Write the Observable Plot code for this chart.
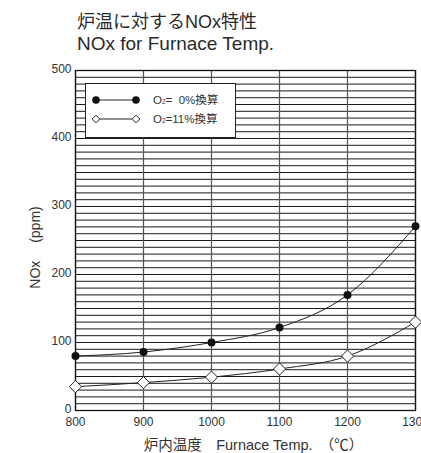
<!DOCTYPE html>
<html>
<head>
<meta charset="utf-8">
<script src="https://cdn.jsdelivr.net/npm/d3@7"></script>
<script src="https://cdn.jsdelivr.net/npm/@observablehq/plot@0.6"></script>
<style>
  body { margin: 0; background: #fff; font-family: "Liberation Sans", "Noto Sans CJK JP", sans-serif; color: #222; }
  #wrap { position: relative; width: 421px; height: 453px; overflow: hidden; }
  #title { position: absolute; left: 77px; top: 0; font-size: 18px; line-height: 22px; color: #2a2a2a; }
  #title div { white-space: nowrap; }
  #chart { position: absolute; left: 0; top: 60px; }
  #legend { position: absolute; left: 85px; top: 83px; width: 149px; height: 53px; background: #fff; border: 1px solid #222; font-size: 11.5px; color: #333; }
  #legend .row { position: absolute; left: 0; height: 14px; white-space: pre; }
  #legend svg { position: absolute; left: 0; top: 0; }
  #legend .lbl { position: absolute; left: 67px; top: 0; line-height: 14px; }
  #legend sub { font-size: 6.5px; vertical-align: 0; }
</style>
</head>
<body>
<div id="wrap">
  <div id="title"><div style="margin-top:11px">炉温に対するNOx特性</div><div style="font-size:19px">NOx for Furnace Temp.</div></div>
  <div id="chart"></div>
  <div id="legend"></div>
</div>
<script>
const temps = [800, 900, 1000, 1100, 1200, 1300];
const nox0 = [80, 86, 100, 122, 170, 271];
const nox11 = [35, 41, 49, 61, 80, 130];
const seriesNames = ["O2=  0%換算", "O2=11%換算"];
const xTicks = [800, 900, 1000, 1100, 1200, 1300];
const yTicks = [0, 100, 200, 300, 400, 500];
const yMinorStep = 10;
const xLabel = "炉内温度　Furnace Temp.　（℃）";
const yLabel = "NOx　 (ppm)";

const rows0 = temps.map((t, i) => ({temp: t, nox: nox0[i]}));
const rows11 = temps.map((t, i) => ({temp: t, nox: nox11[i]}));
const yGrid = d3.range(yTicks[0], yTicks[yTicks.length - 1] + 1, yMinorStep);

const plot = Plot.plot({
  width: 421,
  height: 393,
  marginTop: 10,
  marginBottom: 43,
  marginLeft: 75,
  marginRight: 6,
  style: {fontFamily: '"Liberation Sans", "Noto Sans CJK JP", sans-serif', fontSize: "12px", color: "#333", overflow: "visible"},
  x: {domain: [800, 1300]},
  y: {domain: [0, 500]},
  marks: [
    Plot.gridY(yGrid, {stroke: "#1a1a1a", strokeOpacity: 1, strokeWidth: 1}),
    Plot.gridX(xTicks, {stroke: "#555", strokeOpacity: 1, strokeWidth: 1.2}),
    Plot.frame({stroke: "#111", strokeWidth: 1.3}),
    Plot.axisY(yTicks, {tickSize: 0, tickPadding: 4, label: null, fill: "#333", tickFormat: d => String(d), dy: -1}),
    Plot.axisX(xTicks, {tickSize: 0, tickPadding: 7, label: null, fill: "#333", tickFormat: d => String(d)}),
    Plot.text([xLabel], {frameAnchor: "bottom", textAnchor: "middle", lineAnchor: "middle", dy: 34.5, dx: 8, fontSize: 14.5, fill: "#333"}),
    Plot.text([yLabel], {frameAnchor: "left", textAnchor: "middle", lineAnchor: "middle", dx: -40, dy: 7, rotate: -90, fontSize: 14, fill: "#333"}),
    Plot.line(rows0, {x: "temp", y: "nox", curve: "monotone-x", stroke: "#222", strokeWidth: 1}),
    Plot.line(rows11, {x: "temp", y: "nox", curve: "monotone-x", stroke: "#222", strokeWidth: 1}),
    Plot.dot(rows0, {x: "temp", y: "nox", r: 4, fill: "#111", stroke: "none"}),
    Plot.dot(rows11, {x: "temp", y: "nox", r: 5.5, symbol: "diamond2", fill: "#fff", stroke: "#222", strokeWidth: 1})
  ]
});
document.getElementById("chart").appendChild(plot);

// Legend
const legend = document.getElementById("legend");
const tops = [9, 28];
seriesNames.forEach((name, i) => {
  const row = document.createElement("div");
  row.className = "row";
  row.style.top = tops[i] + "px";
  row.style.width = "148px";
  const sym = i === 0
    ? '<circle cx="10" cy="7" r="3.8" fill="#111"/><circle cx="50" cy="7" r="3.8" fill="#111"/>'
    : '<path d="M10 3.2 L13.8 7 L10 10.8 L6.2 7 Z" fill="#fff" stroke="#222"/><path d="M50 3.2 L53.8 7 L50 10.8 L46.2 7 Z" fill="#fff" stroke="#222"/>';
  const lineSeg = i === 0
    ? '<line x1="10" x2="50" y1="7" y2="7" stroke="#222" stroke-width="1.2"/>'
    : '<line x1="13.8" x2="46.2" y1="7" y2="7" stroke="#222" stroke-width="1.2"/>';
  const parts = name.split("2");
  row.innerHTML = '<svg width="60" height="14">' + lineSeg + sym + '</svg>' +
    '<span class="lbl">' + parts[0] + '<sub>2</sub>' + parts.slice(1).join("2") + '</span>';
  legend.appendChild(row);
});
</script>
</body>
</html>
